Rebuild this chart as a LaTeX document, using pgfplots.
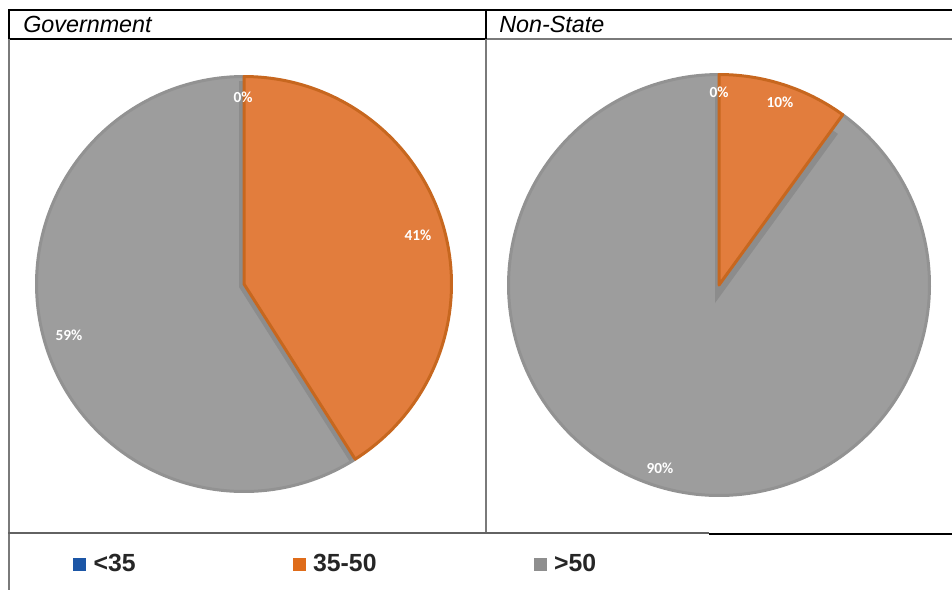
\documentclass[border=0pt]{standalone}
\usepackage{pgfplots}
\pgfplotsset{compat=1.18}
\usepackage{fontspec}
\setmainfont{Liberation Sans}
\newfontfamily\labelfont{Carlito}

\definecolor{pieorange}{HTML}{E27D3D}
\definecolor{orangerim}{HTML}{C7671F}
\definecolor{piegrey}{HTML}{9D9D9D}
\definecolor{greyrim}{HTML}{929292}
\definecolor{shadowgrey}{HTML}{8C8C8C}
\definecolor{legblue}{HTML}{1C56A6}
\definecolor{legorange}{HTML}{DF6C1A}
\definecolor{leggrey}{HTML}{8E8E8E}
\definecolor{legtext}{HTML}{262626}
\definecolor{ruleg}{HTML}{7A7A7A}

% Share of each age group, per cent: <35, 35-50, >50
\def\govA{0}  \def\govB{41} \def\govC{59}
\def\nsA{0}   \def\nsB{10}  \def\nsC{90}

% Pie centres and radii (picture units)
\def\gcx{244}   \def\gcy{284} \def\gr{209}
\def\ncx{719}   \def\ncy{285} \def\nr{212}

% Slices start at twelve o'clock and run clockwise
\pgfmathsetmacro\govBstart{90-3.6*\govA}
\pgfmathsetmacro\govBend{90-3.6*(\govA+\govB)}
\pgfmathsetmacro\govCend{90-3.6*(\govA+\govB+\govC)}
\pgfmathsetmacro\nsBstart{90-3.6*\nsA}
\pgfmathsetmacro\nsBend{90-3.6*(\nsA+\nsB)}
\pgfmathsetmacro\nsCend{90-3.6*(\nsA+\nsB+\nsC)}

% Drop shadow offsets of the orange slices
\pgfmathsetmacro\gsx{\gcx-5} \pgfmathsetmacro\gsy{\gcy+3}
\pgfmathsetmacro\nsx{\ncx-4} \pgfmathsetmacro\nsy{\ncy+18}

\begin{document}
\begin{tikzpicture}
\begin{axis}[
  scale only axis, width=714pt, height=442.5pt,
  xmin=0, xmax=952, ymin=0, ymax=590, y dir=reverse,
  hide axis, clip=false,
  legend columns=3,
  legend style={draw=none, fill=none, inner sep=0pt, outer sep=0pt,
    at={(axis cs:73,564)}, anchor=west,
    font=\fontsize{18.6}{22}\selectfont\bfseries, text=legtext,
    nodes={inner sep=0pt, outer sep=0pt},
    /tikz/every odd column/.append style={column sep=6pt},
    /tikz/every even column/.append style={column sep=117.75pt}},
]

% ---- Government ----
\addplot[forget plot, fill=piegrey, draw=greyrim, line width=2.25pt, line join=round,
  domain=\govCend:\govBend, samples=160, variable=\t]
  ({\gcx+(\gr-1.5)*cos(\t)}, {\gcy-(\gr-1.5)*sin(\t)}) -- (axis cs:\gcx,\gcy) -- cycle;
\addplot[forget plot, fill=shadowgrey, draw=none,
  domain=\govBend:\govBstart, samples=100, variable=\t]
  ({\gsx+(\gr-3)*cos(\t)}, {\gsy-(\gr-3)*sin(\t)}) -- (axis cs:\gsx,\gsy) -- cycle;
\addplot[forget plot, fill=pieorange, draw=orangerim, line width=2.25pt, line join=round,
  domain=\govBend:\govBstart, samples=100, variable=\t]
  ({\gcx+(\gr-1.5)*cos(\t)}, {\gcy-(\gr-1.5)*sin(\t)}) -- (axis cs:\gcx,\gcy) -- cycle;

% ---- Non-State ----
\addplot[forget plot, fill=piegrey, draw=greyrim, line width=2.25pt, line join=round,
  domain=\nsCend:\nsBend, samples=180, variable=\t]
  ({\ncx+(\nr-1.5)*cos(\t)}, {\ncy-(\nr-1.5)*sin(\t)}) -- (axis cs:\ncx,\ncy) -- cycle;
\addplot[forget plot, fill=shadowgrey, draw=none,
  domain=\nsBend:\nsBstart, samples=40, variable=\t]
  ({\nsx+(\nr-3)*cos(\t)}, {\nsy-(\nr-3)*sin(\t)}) -- (axis cs:\nsx,\nsy) -- cycle;
\addplot[forget plot, fill=pieorange, draw=orangerim, line width=2.25pt, line join=round,
  domain=\nsBend:\nsBstart, samples=40, variable=\t]
  ({\ncx+(\nr-1.5)*cos(\t)}, {\ncy-(\nr-1.5)*sin(\t)}) -- (axis cs:\ncx,\ncy) -- cycle;

% ---- slice labels ----
\begin{scope}[every node/.style={text=white, font=\labelfont\bfseries\fontsize{11.5}{13}\selectfont, inner sep=0pt}]
\node at (axis cs:243,97)  {0\%};
\node at (axis cs:418,235) {41\%};
\node at (axis cs:69,335)  {59\%};
\node at (axis cs:719,92)  {0\%};
\node at (axis cs:780,102) {10\%};
\node at (axis cs:660,468) {90\%};
\end{scope}

% ---- table rules ----
\draw[black, line width=1.5pt] (axis cs:8,10) -- (axis cs:952,10);
\draw[black, line width=1.5pt] (axis cs:8,39) -- (axis cs:486,39);
\draw[ruleg, line width=1pt] (axis cs:486,39) -- (axis cs:952,39);
\draw[black, line width=1.5pt] (axis cs:9,10) -- (axis cs:9,39);
\draw[ruleg, line width=1.5pt] (axis cs:9,39) -- (axis cs:9,590);
\draw[black, line width=1.5pt] (axis cs:486,10) -- (axis cs:486,39);
\draw[ruleg, line width=1.2pt] (axis cs:486,39) -- (axis cs:486,533);
\draw[ruleg!80!black, line width=0.9pt] (axis cs:8,533) -- (axis cs:709,533);
\draw[black, line width=1.6pt] (axis cs:709,534) -- (axis cs:952,534);

% ---- column headings ----
\node[anchor=base west, inner sep=0pt, font=\itshape\fontsize{17.5}{20}\selectfont]
  at (axis cs:23,32.7) {Government};
\node[anchor=base west, inner sep=0pt, font=\itshape\fontsize{17.5}{20}\selectfont]
  at (axis cs:499,32.7) {Non-State};

% ---- legend ----
\addlegendimage{legend image code/.code={\fill[legblue] (0pt,-4.5pt) rectangle (9pt,4.5pt);}}
\addlegendentry{<35}
\addlegendimage{legend image code/.code={\fill[legorange] (0pt,-4.5pt) rectangle (9pt,4.5pt);}}
\addlegendentry{35-50}
\addlegendimage{legend image code/.code={\fill[leggrey] (0pt,-4.5pt) rectangle (9pt,4.5pt);}}
\addlegendentry{>50}
\end{axis}
\pgfresetboundingbox
\path (current axis.south west) rectangle (current axis.north east);
\end{tikzpicture}
\end{document}
